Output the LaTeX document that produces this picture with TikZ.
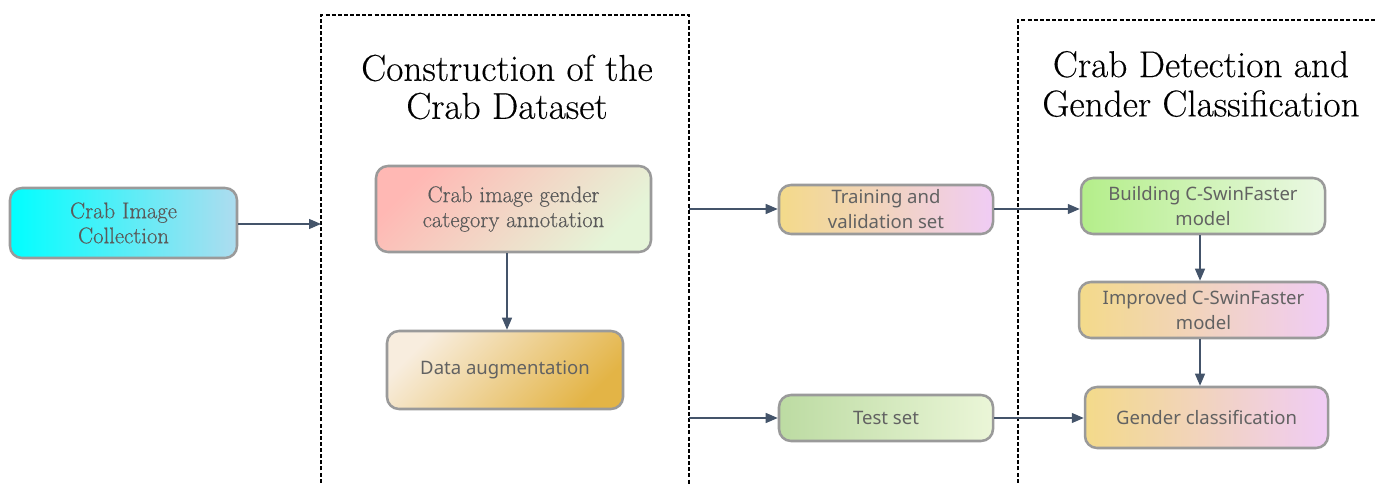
\documentclass[tikz,border=0pt]{standalone}
\usepackage{fontspec}
\newfontfamily\boxsans{Noto Sans}
\newfontfamily\boxserif{Latin Modern Roman}[FakeBold=0.5]
\newfontfamily\titleserif{Latin Modern Roman}[FakeBold=0.35]
\usetikzlibrary{arrows.meta}
\definecolor{arrowc}{HTML}{44546A}
\definecolor{bordc}{HTML}{9A9A9A}
\definecolor{txtc}{HTML}{5A5A5A}
\definecolor{stxtc}{HTML}{626262}
\definecolor{colA}{HTML}{00FFFF}
\definecolor{colB}{HTML}{AEDCEF}
\definecolor{annA}{HTML}{FFB8B4}
\definecolor{annB}{HTML}{E5F5D8}
\definecolor{augA}{HTML}{F8EDDE}
\definecolor{augB}{HTML}{E3B446}
\definecolor{yelA}{HTML}{F3DA8A}
\definecolor{lavB}{HTML}{F0CCF5}
\definecolor{tstA}{HTML}{BCDBA2}
\definecolor{tstB}{HTML}{EBF6D8}
\definecolor{bldA}{HTML}{B4EE8A}
\definecolor{bldB}{HTML}{EBF8E4}
\tikzset{
  pbox/.style={draw=bordc, line width=1.9pt, rounded corners=9pt, inner sep=0pt, align=center, text=txtc},
  serifbox/.style={pbox, font=\boxserif\fontsize{17}{18.75}\selectfont},
  sansbox/.style={pbox, text=stxtc, font=\boxsans\fontsize{13.9}{18.75}\selectfont},
  conn/.style={draw=arrowc, line width=0.9pt, -{Triangle[length=9pt,width=7.5pt]}},
  frame/.style={draw=black, line width=0.9pt, dash pattern=on 3pt off 1.6pt},
  title/.style={align=center, font=\titleserif\fontsize{28}{28.5}\selectfont, text=black},
}
\begin{document}
\begin{tikzpicture}[x=0.75pt,y=-0.75pt]
\useasboundingbox (0,0) rectangle (1376,484);
\clip (0,0) rectangle (1376,484);
% frames
\draw[frame] (321,495) -- (321,15) -- (689,15) -- (689,495);
\draw[frame] (1018,495) -- (1018,20) -- (1390,20);
% titles
\node[title] (t1) at (507,87) {Construction of the\\Crab Dataset};
\node[title, font=\titleserif\fontsize{28}{29.5}\selectfont] (t2) at (1201,84) {Crab Detection and\\Gender Classification};
% nodes
\node[serifbox, minimum width=170.25pt, minimum height=52.5pt, left color=colA, right color=colB] (coll) at (123.5,223) {Crab Image\\Collection};
\node[serifbox, minimum width=206.25pt, minimum height=64.5pt, top color=annA, bottom color=annB, shading angle=45] (annot) at (513.5,209) {Crab image gender\\category annotation};
\node[sansbox, minimum width=177pt, minimum height=58.5pt, top color=augA, bottom color=augB, shading angle=45] (aug) at (505,370) {Data augmentation};
\node[sansbox, minimum width=160.5pt, minimum height=36.75pt, left color=yelA, right color=lavB] (train) at (886,209.5) {Training and\\validation set};
\node[sansbox, minimum width=160.5pt, minimum height=34.5pt, left color=tstA, right color=tstB] (test) at (886,418) {Test set};
\node[sansbox, minimum width=183pt, minimum height=42pt, left color=bldA, right color=bldB] (build) at (1203,206) {Building C-SwinFaster\\model};
\node[sansbox, minimum width=186.75pt, minimum height=42pt, left color=yelA, right color=lavB] (impr) at (1203.5,310) {Improved C-SwinFaster\\model};
\node[sansbox, minimum width=182.25pt, minimum height=45.75pt, left color=yelA, right color=lavB] (gend) at (1206.5,417.5) {Gender classification};
% connector anchors
\coordinate (d1) at (321,224);
\coordinate (s1) at (689,209);
\coordinate (s2) at (689,418);
\coordinate (ax) at (507,0);
\coordinate (rx) at (1200,0);
% connectors
\draw[conn] (coll.east |- d1) -- (d1);
\draw[conn] (annot.south -| ax) -- (aug.north -| ax);
\draw[conn] (s1) -- (train.west |- s1);
\draw[conn] (s2) -- (test.west |- s2);
\draw[conn] (train.east |- s1) -- (build.west |- s1);
\draw[conn] (test.east) -- (test.east -| gend.west);
\draw[conn] (build.south -| rx) -- (impr.north -| rx);
\draw[conn] (impr.south -| rx) -- (gend.north -| rx);
\end{tikzpicture}
\end{document}
